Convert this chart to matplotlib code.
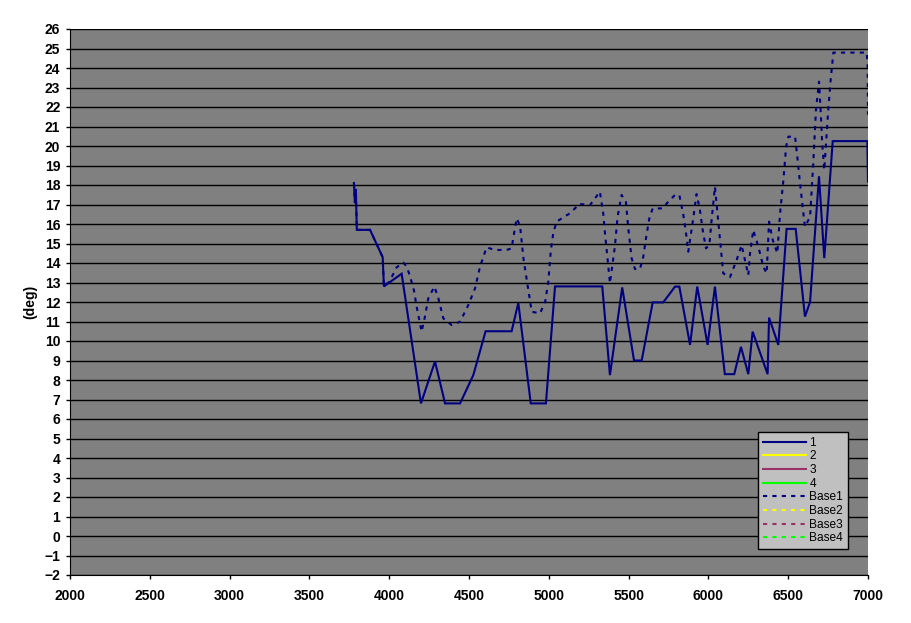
import matplotlib
matplotlib.use("Agg")
import matplotlib.pyplot as plt

# ─── Data ────────────────────────────────────────────────────────────────────
s1_x = [3779, 3785, 3791, 3797, 3880, 3959, 3967, 4078, 4199, 4287, 4350, 4444,
        4527, 4604, 4767, 4809, 4887, 4982, 5039, 5335, 5383, 5460, 5534, 5582,
        5651, 5717, 5791, 5818, 5885, 5930, 5995, 6041, 6103, 6162, 6204, 6250,
        6277, 6371, 6380, 6438, 6490, 6547, 6605, 6637, 6693, 6726, 6779, 6996,
        7000]
s1_y = [18.1, 17.1, 17.8, 15.7, 15.7, 14.3, 12.8, 13.45, 6.8, 8.95, 6.8, 6.8,
        8.25, 10.5, 10.5, 11.95, 6.8, 6.8, 12.8, 12.8, 8.25, 12.75, 9.0, 9.0,
        11.98, 11.98, 12.79, 12.79, 9.8, 12.79, 9.8, 12.79, 8.3, 8.3, 9.7, 8.3,
        10.48, 8.3, 11.2, 9.8, 15.75, 15.75, 11.25, 12.0, 18.45, 14.25, 20.25, 20.25,
        18.17]

b1_x = [3779, 3785, 3791, 3797, 3880, 3959, 3967, 4001, 4047, 4089, 4110, 4130,
        4155, 4172, 4203, 4224, 4245, 4283, 4308, 4339, 4391, 4444, 4496, 4538,
        4569, 4610, 4663, 4736, 4767, 4777, 4799, 4820, 4841, 4862, 4893, 4945,
        4977, 4997, 5012, 5029, 5050, 5081, 5133, 5164, 5191, 5258, 5290, 5320,
        5341, 5352, 5367, 5383, 5414, 5431, 5456, 5483, 5498, 5519, 5540, 5571,
        5592, 5609, 5630, 5651, 5713, 5749, 5791, 5818, 5843, 5860, 5874, 5905,
        5926, 5947, 5964, 5985, 6006, 6021, 6041, 6073, 6093, 6135, 6177, 6208,
        6229, 6250, 6261, 6281, 6313, 6344, 6365, 6380, 6403, 6432, 6449, 6470,
        6487, 6501, 6543, 6557, 6574, 6595, 6605, 6637, 6657, 6674, 6693, 6703,
        6713, 6726, 6751, 6766, 6783, 6992, 6998, 7000]
b1_y = [18.1, 17.1, 17.8, 15.7, 15.7, 14.3, 12.8, 13.04, 13.78, 14.02, 13.81, 13.33,
        12.6, 11.76, 10.48, 11.25, 12.19, 12.79, 12.19, 11.16, 10.82, 10.99, 11.85, 12.7,
        13.81, 14.8, 14.67, 14.67, 14.75, 15.27, 16.29, 15.9, 14.24, 13.13, 11.5, 11.42,
        12.0, 13.04, 14.58, 15.6, 16.12, 16.29, 16.55, 16.8, 17.03, 16.97, 17.32, 17.66,
        16.55, 15.52, 14.32, 12.96, 14.84, 16.37, 17.49, 17.15, 15.78, 14.24, 13.69, 13.69,
        14.32, 15.27, 16.29, 16.8, 16.8, 17.15, 17.49, 17.49, 16.46, 15.52, 14.58, 16.29,
        17.54, 16.72, 15.7, 14.75, 14.92, 16.29, 17.91, 15.18, 13.47, 13.27, 14.15, 14.92,
        14.15, 13.38, 14.5, 15.69, 14.84, 13.81, 13.47, 16.12, 15.18, 14.5, 16.55, 18.26,
        19.97, 20.48, 20.48, 19.45, 18.09, 16.55, 15.86, 16.37, 19.11, 21.85, 23.3, 21.85,
        20.14, 18.77, 21.85, 23.38, 24.79, 24.79, 24.07, 21.6]

# series with no visible points in the chart, only in the legend
empty_x = []
empty_y = []

labels = ["1", "2", "3", "4", "Base1", "Base2", "Base3", "Base4"]
colors = ["#000080", "#FFFF00", "#993366", "#00FF00"]

x_ticks = list(range(2000, 7001, 500))
y_ticks = list(range(-2, 27))

# ─── Plot ────────────────────────────────────────────────────────────────────
plt.rcParams['font.family'] = ['Liberation Sans', 'DejaVu Sans']

fig = plt.figure(figsize=(9.11, 6.23), dpi=100)
fig.patch.set_facecolor("white")
ax = fig.add_axes([70 / 911, 1 - 575 / 623, 798 / 911, 546 / 623])
ax.set_facecolor("#808080")

series_x = [s1_x, empty_x, empty_x, empty_x, b1_x, empty_x, empty_x, empty_x]
series_y = [s1_y, empty_y, empty_y, empty_y, b1_y, empty_y, empty_y, empty_y]

for i, lab in enumerate(labels):
    col = colors[i % 4]
    if i < 4:
        ax.plot(series_x[i], series_y[i], color=col, lw=1.5, label=lab,
                solid_joinstyle='miter')
    else:
        ax.plot(series_x[i], series_y[i], color=col, lw=1.5, label=lab,
                linestyle=(0, (2, 2.5)))

ax.set_xlim(2000, 7000)
ax.set_ylim(-2, 26)
ax.set_xticks(x_ticks)
ax.set_yticks(y_ticks)
ax.set_xticklabels([str(t) for t in x_ticks], fontsize=10, fontweight='bold')
ax.set_yticklabels([str(t).replace('-', '\u2212') for t in y_ticks], fontsize=10,
                   fontweight='bold')
ax.tick_params(direction='out', length=3, width=1)
ax.tick_params(axis='y', pad=4)
ax.tick_params(axis='x', pad=7)
ax.grid(axis='y', color='black', lw=1)
ax.set_axisbelow(True)
for side in ['top', 'right']:
    ax.spines[side].set_visible(False)
ax.spines['left'].set_color('black')
ax.spines['bottom'].set_color('black')

fig.text(30 / 911, 1 - 302 / 623, "(deg)", rotation=90, fontsize=10,
         fontweight='bold', ha='center', va='center')

leg = ax.legend(loc='upper left', bbox_to_anchor=(758 / 911, 1 - 432 / 623),
                bbox_transform=fig.transFigure, fontsize=8.6, frameon=True,
                fancybox=False, framealpha=1, facecolor='#C0C0C0',
                edgecolor='black', handlelength=3.6, handletextpad=0.3,
                labelspacing=0.14, borderpad=0.4, borderaxespad=0)
leg.get_frame().set_linewidth(1)

plt.savefig("out.png", dpi=100)
plt.close()
